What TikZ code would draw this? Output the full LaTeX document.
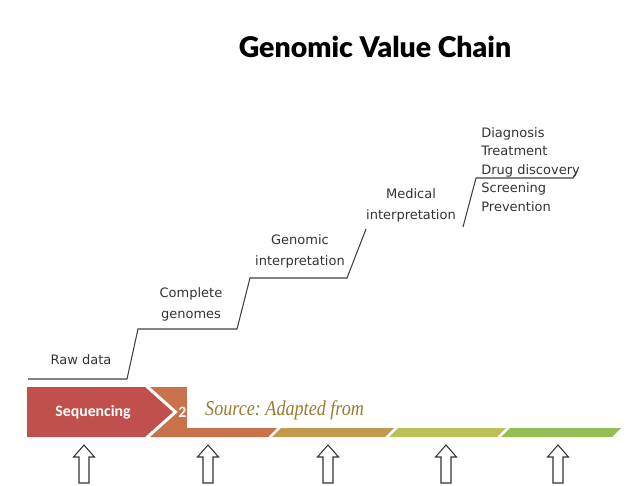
\documentclass[tikz,border=0pt]{standalone}
\usepackage{fontspec}
\setmainfont{DejaVu Sans}
\newfontfamily\titlefont{Lato}[BoldFont={Lato Black}]
\newfontfamily\barfont{Carlito}
\newfontfamily\srcfont{Liberation Serif}[FakeStretch=0.86]
\usetikzlibrary{positioning}
\definecolor{seqred}{HTML}{C0504D}
\definecolor{annorange}{HTML}{C8714A}
\definecolor{mustard}{HTML}{C19A4E}
\definecolor{lime}{HTML}{BAC157}
\definecolor{leafgreen}{HTML}{95BD55}
\definecolor{srcgold}{HTML}{9C7A32}

\begin{document}
\begin{tikzpicture}[x=0.02cm,y=-0.02cm]
  \tikzstyle{step label}=[font=\fontsize{7.4}{11.9}\selectfont,align=center,text=black!80,inner sep=0pt]
  \tikzstyle{stair}=[draw=black!75,line width=0.6pt]
  \tikzstyle{up arrow}=[draw=black!80,line width=0.6pt,fill=white]
  \tikzstyle{bar text}=[font=\barfont\bfseries\fontsize{9}{9}\selectfont,text=white,inner sep=0pt]
\useasboundingbox (0,0) rectangle (636,485);
\node[font=\titlefont\bfseries\fontsize{16.2}{16.2}\selectfont] (title) at (375,47) {Genomic Value Chain};

% staircase
\draw[stair] (28,379) -- (127,379) -- (138,329) -- (237,329) -- (250,278) -- (347,278) -- (366,229);
\draw[stair] (463,227) -- (476,178) -- (573,178) -- (577,171);

\node[step label] (raw) at (81,360) {Raw data};
\node[step label] (complete) at (191,304) {Complete\\genomes};
\node[step label] (genomic) at (300,251) {Genomic\\interpretation};
\node[step label] (medical) at (411,205) {Medical\\interpretation};
\node[step label,align=left,anchor=north west,font=\fontsize{7.4}{10.5}\selectfont] (uses) at (481,127)
  {Diagnosis\\Treatment\\Drug discovery\\Screening\\Prevention};

% chevron bar
\fill[seqred] (27,387) -- (145,387) -- (173,412) -- (145,437) -- (27,437) -- cycle;
\fill[annorange] (150,387) -- (318,387) -- (268,437) -- (150,437) -- (178,412) -- cycle;
\fill[mustard] (322,387) -- (435,387) -- (385,437) -- (272,437) -- cycle;
\fill[lime] (439,387) -- (547,387) -- (497,437) -- (389,437) -- cycle;
\fill[leafgreen] (551,387) -- (662,387) -- (612,437) -- (501,437) -- cycle;
\node[bar text] (seq) at (93,412) {Sequencing};
\node[bar text,anchor=west] (two) at (178,412) {2};
\fill[white] (187,385) rectangle (640,428);
\node[anchor=west,text=srcgold,font=\srcfont\itshape\frenchspacing\fontsize{12}{12}\selectfont] (source) at (199,410) {Source: Adapted from};

% arrows
\foreach \x in {84,208,328,446,558}
  \draw[up arrow] (\x,445) -- (\x+10.5,457) -- (\x+5,457) -- (\x+5,483) -- (\x-5,483) -- (\x-5,457) -- (\x-10.5,457) -- cycle;
\end{tikzpicture}
\end{document}
